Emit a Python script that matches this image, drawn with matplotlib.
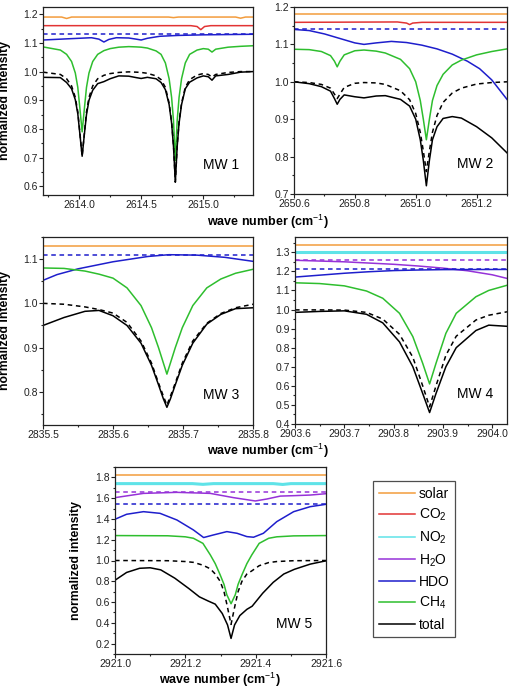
import matplotlib
matplotlib.use("Agg")
import matplotlib.pyplot as plt
from matplotlib.lines import Line2D
from matplotlib.ticker import MultipleLocator, FormatStrFormatter

plt.rcParams['font.family'] = ['Liberation Sans', 'DejaVu Sans']
plt.rcParams['mathtext.fontset'] = 'custom'
plt.rcParams['mathtext.rm'] = 'Liberation Sans'
plt.rcParams['mathtext.bf'] = 'Liberation Sans:bold'

# ---------------- MW 1 ----------------
mw1_solar_x = [2613.71, 2613.86, 2613.90, 2613.94, 2614.72, 2614.76, 2614.80, 2615.26, 2615.30, 2615.34, 2615.40]
mw1_solar = [1.190, 1.190, 1.185, 1.190, 1.190, 1.188, 1.190, 1.190, 1.186, 1.190, 1.190]
mw1_co2_x = [2613.71, 2614.90, 2614.95, 2614.98, 2615.01, 2615.06, 2615.40]
mw1_co2 = [1.160, 1.160, 1.157, 1.146, 1.157, 1.160, 1.160]
mw1_hdo_ref = [1.13, 1.13]
mw1_hdo_x = [2613.71, 2613.9, 2614.1, 2614.16, 2614.2, 2614.24, 2614.3, 2614.4, 2614.46, 2614.5,
             2614.55, 2614.65, 2614.8, 2615.0, 2615.2, 2615.4]
mw1_hdo = [1.110, 1.114, 1.118, 1.113, 1.103, 1.112, 1.118, 1.117, 1.113, 1.110,
           1.116, 1.123, 1.126, 1.128, 1.129, 1.130]
mw1_x = [2613.71, 2613.85, 2613.90, 2613.94, 2613.97, 2613.99, 2614.005, 2614.025, 2614.045, 2614.06,
         2614.08, 2614.11, 2614.15, 2614.20, 2614.25, 2614.32, 2614.40, 2614.46, 2614.50, 2614.55,
         2614.62, 2614.66, 2614.695, 2614.725, 2614.745, 2614.76, 2614.775, 2614.79, 2614.805, 2614.825,
         2614.855, 2614.89, 2614.95, 2615.00, 2615.04, 2615.07, 2615.10, 2615.20, 2615.30, 2615.40]
mw1_ch4 = [1.086, 1.075, 1.060, 1.035, 0.995, 0.945, 0.880, 0.790, 0.880, 0.945,
           0.995, 1.035, 1.060, 1.073, 1.080, 1.085, 1.087, 1.086, 1.085, 1.082,
           1.072, 1.060, 1.030, 0.975, 0.910, 0.830, 0.690, 0.830, 0.910, 0.975,
           1.030, 1.060, 1.075, 1.080, 1.078, 1.068, 1.078, 1.085, 1.088, 1.090]
mw1_ch4only = [0.998, 0.990, 0.975, 0.950, 0.910, 0.860, 0.795, 0.705, 0.795, 0.860,
               0.910, 0.950, 0.975, 0.987, 0.993, 0.997, 0.999, 0.998, 0.997, 0.994,
               0.985, 0.972, 0.945, 0.890, 0.825, 0.745, 0.615, 0.745, 0.825, 0.890,
               0.945, 0.972, 0.988, 0.993, 0.990, 0.981, 0.990, 0.997, 1.000, 1.000]
mw1_total = [0.980, 0.979, 0.962, 0.940, 0.902, 0.853, 0.790, 0.705, 0.790, 0.850,
             0.900, 0.935, 0.958, 0.965, 0.975, 0.985, 0.984, 0.979, 0.976, 0.980,
             0.975, 0.962, 0.937, 0.885, 0.820, 0.740, 0.615, 0.740, 0.820, 0.885,
             0.940, 0.963, 0.978, 0.985, 0.982, 0.970, 0.985, 0.990, 0.998, 1.000]

# ---------------- MW 2 ----------------
mw2_solar = [1.18, 1.18]
mw2_co2_x = [2650.60, 2650.94, 2650.97, 2650.98, 2650.99, 2651.02, 2651.30]
mw2_co2 = [1.159, 1.160, 1.157, 1.153, 1.157, 1.159, 1.159]
mw2_hdo_ref = [1.14, 1.14]
mw2_hdo_x = [2650.60, 2650.65, 2650.70, 2650.75, 2650.80, 2650.83, 2650.87, 2650.92, 2650.97, 2651.02,
             2651.07, 2651.12, 2651.17, 2651.21, 2651.25, 2651.30]
mw2_hdo = [1.140, 1.137, 1.128, 1.116, 1.104, 1.100, 1.104, 1.108, 1.105, 1.098,
           1.088, 1.074, 1.055, 1.035, 1.005, 0.953]
mw2_x = [2650.60, 2650.65, 2650.69, 2650.72, 2650.733, 2650.742, 2650.751, 2650.765, 2650.80, 2650.83,
         2650.87, 2650.90, 2650.95, 2650.98, 2651.00, 2651.015, 2651.025, 2651.035, 2651.045, 2651.055,
         2651.07, 2651.09, 2651.12, 2651.15, 2651.20, 2651.25, 2651.30]
mw2_ch4 = [1.087, 1.086, 1.081, 1.070, 1.055, 1.040, 1.055, 1.072, 1.083, 1.085,
           1.082, 1.077, 1.060, 1.035, 1.000, 0.950, 0.900, 0.845, 0.900, 0.950,
           0.990, 1.020, 1.045, 1.058, 1.072, 1.081, 1.088]
mw2_ch4only = [1.000, 0.998, 0.993, 0.983, 0.967, 0.955, 0.967, 0.985, 0.996, 0.998,
               0.997, 0.993, 0.976, 0.952, 0.915, 0.865, 0.815, 0.760, 0.815, 0.865,
               0.910, 0.945, 0.970, 0.983, 0.994, 0.998, 1.000]
mw2_total = [1.000, 0.995, 0.987, 0.975, 0.955, 0.940, 0.953, 0.965, 0.960, 0.957,
             0.962, 0.963, 0.953, 0.935, 0.900, 0.845, 0.790, 0.722, 0.790, 0.845,
             0.880, 0.902, 0.907, 0.903, 0.880, 0.850, 0.810]

# ---------------- MW 3 ----------------
mw3_solar = [1.13, 1.13]
mw3_hdo_ref = [1.11, 1.11]
mw3_hdo_x = [2835.50, 2835.52, 2835.55, 2835.60, 2835.65, 2835.68, 2835.72, 2835.76, 2835.80]
mw3_hdo = [1.052, 1.065, 1.078, 1.094, 1.106, 1.110, 1.109, 1.104, 1.095]
mw3_x = [2835.50, 2835.53, 2835.56, 2835.58, 2835.60, 2835.62, 2835.64, 2835.655, 2835.665, 2835.672,
         2835.677, 2835.682, 2835.689, 2835.699, 2835.714, 2835.734, 2835.754, 2835.775, 2835.80]
mw3_ch4 = [1.080, 1.079, 1.073, 1.066, 1.057, 1.035, 0.995, 0.945, 0.900, 0.865,
           0.840, 0.865, 0.900, 0.945, 0.995, 1.035, 1.055, 1.068, 1.077]
mw3_ch4only = [1.000, 0.998, 0.992, 0.986, 0.978, 0.957, 0.915, 0.865, 0.820, 0.790,
               0.770, 0.790, 0.820, 0.865, 0.915, 0.955, 0.977, 0.990, 0.998]
mw3_total = [0.950, 0.968, 0.982, 0.984, 0.972, 0.950, 0.910, 0.860, 0.816, 0.784,
             0.765, 0.784, 0.816, 0.860, 0.910, 0.953, 0.975, 0.988, 0.990]

# ---------------- MW 4 ----------------
mw4_solar = [1.34, 1.34]
mw4_no2 = [1.30, 1.30]
mw4_h2o_ref = [1.262, 1.262]
mw4_h2o_x = [2903.60, 2903.70, 2903.80, 2903.85, 2903.90, 2903.95, 2904.00, 2904.03]
mw4_h2o = [1.258, 1.250, 1.237, 1.228, 1.217, 1.203, 1.182, 1.163]
mw4_hdo_ref = [1.21, 1.21]
mw4_hdo_x = [2903.60, 2903.65, 2903.70, 2903.75, 2903.80, 2903.85, 2903.90, 2904.03]
mw4_hdo = [1.170, 1.180, 1.190, 1.198, 1.204, 1.207, 1.209, 1.210]
mw4_x = [2903.60, 2903.65, 2903.70, 2903.745, 2903.778, 2903.812, 2903.839, 2903.859, 2903.873, 2903.886,
         2903.906, 2903.927, 2903.967, 2903.993, 2904.03]
mw4_ch4 = [1.140, 1.136, 1.124, 1.097, 1.059, 0.980, 0.858, 0.718, 0.610, 0.718,
           0.875, 0.980, 1.067, 1.100, 1.127]
mw4_ch4only = [0.998, 0.998, 0.997, 0.985, 0.950, 0.870, 0.750, 0.600, 0.490, 0.600,
               0.760, 0.860, 0.945, 0.970, 0.988]
mw4_total = [0.985, 0.990, 0.993, 0.975, 0.930, 0.830, 0.700, 0.560, 0.460, 0.560,
             0.700, 0.800, 0.890, 0.918, 0.912]

# ---------------- MW 5 ----------------
mw5_solar = [1.82, 1.82]
mw5_no2_x = [2921.0, 2921.22, 2921.25, 2921.28, 2921.45, 2921.477, 2921.50, 2921.6]
mw5_no2 = [1.740, 1.740, 1.733, 1.740, 1.740, 1.732, 1.740, 1.740]
mw5_h2o_ref = [1.66, 1.66]
mw5_h2o_x = [2921.0, 2921.081, 2921.176, 2921.271, 2921.337, 2921.399, 2921.432, 2921.47, 2921.508, 2921.555, 2921.6]
mw5_h2o = [1.605, 1.646, 1.656, 1.646, 1.605, 1.573, 1.592, 1.620, 1.624, 1.630, 1.643]
mw5_hdo_ref = [1.54, 1.54]
mw5_hdo_x = [2921.0, 2921.033, 2921.081, 2921.128, 2921.176, 2921.223, 2921.252, 2921.28, 2921.318, 2921.347,
             2921.375, 2921.394, 2921.422, 2921.46, 2921.508, 2921.555, 2921.6]
mw5_hdo = [1.397, 1.445, 1.470, 1.454, 1.390, 1.294, 1.221, 1.246, 1.278, 1.262,
           1.230, 1.224, 1.262, 1.374, 1.470, 1.518, 1.541]
mw5_x = [2921.0, 2921.15, 2921.2, 2921.223, 2921.25, 2921.271, 2921.285, 2921.299, 2921.31, 2921.318,
         2921.33, 2921.342, 2921.35, 2921.361, 2921.375, 2921.389, 2921.41, 2921.437, 2921.46, 2921.508, 2921.6]
mw5_ch4 = [1.240, 1.238, 1.228, 1.214, 1.165, 1.054, 0.970, 0.862, 0.770, 0.670,
           0.584, 0.670, 0.770, 0.862, 0.970, 1.054, 1.165, 1.214, 1.228, 1.237, 1.240]
mw5_ch4only = [1.000, 0.998, 0.990, 0.982, 0.955, 0.920, 0.870, 0.800, 0.700, 0.580,
               0.385, 0.580, 0.700, 0.800, 0.870, 0.900, 0.950, 0.980, 0.990, 0.998, 1.000]
mw5_total_x = [2921.0, 2921.033, 2921.07, 2921.1, 2921.13, 2921.17, 2921.21, 2921.24, 2921.265, 2921.285,
               2921.305, 2921.32, 2921.33, 2921.34, 2921.355, 2921.375, 2921.39, 2921.42, 2921.45, 2921.48,
               2921.51, 2921.555, 2921.6]
mw5_total = [0.810, 0.885, 0.925, 0.930, 0.910, 0.830, 0.730, 0.650, 0.610, 0.580,
             0.490, 0.380, 0.250, 0.380, 0.470, 0.530, 0.560, 0.685, 0.790, 0.870,
             0.915, 0.965, 0.997]

legend_labels = ['solar', 'CO$_2$', 'NO$_2$', 'H$_2$O', 'HDO', 'CH$_4$', 'total']

C_SOLAR = '#F39C3C'
C_CO2 = '#E23434'
C_NO2 = '#5FE3E8'
C_H2O = '#9632D8'
C_HDO = '#1E1ECC'
C_CH4 = '#2EBE2E'
C_TOT = '#000000'
DASH = (0, (3.0, 2.4))

W, H = 509, 688
fig = plt.figure(figsize=(W / 100, H / 100), dpi=100)


def make_ax(l, t, r, b):
    return fig.add_axes([l / W, 1 - b / H, (r - l) / W, (b - t) / H])


def style(ax, xlim, ylim, xmaj, xmin, ymaj, ymin, name):
    ax.set_xlim(*xlim)
    ax.set_ylim(*ylim)
    ax.xaxis.set_major_locator(MultipleLocator(xmaj))
    ax.xaxis.set_minor_locator(MultipleLocator(xmin))
    ax.yaxis.set_major_locator(MultipleLocator(ymaj))
    ax.yaxis.set_minor_locator(MultipleLocator(ymin))
    ax.xaxis.set_major_formatter(FormatStrFormatter('%.1f'))
    ax.yaxis.set_major_formatter(FormatStrFormatter('%.1f'))
    ax.tick_params(which='both', direction='out', top=False, right=False,
                   labelsize=7.5, width=0.8, colors='#222222', pad=1)
    ax.tick_params(which='major', length=2.6)
    ax.tick_params(which='minor', length=1.6)
    for s in ax.spines.values():
        s.set_linewidth(0.9)
        s.set_color('#222222')
    ax.text(0.85, 0.16, name, transform=ax.transAxes, fontsize=10,
            ha='center', va='center')


lw = 1.1
ylab_kw = dict(fontsize=8.8, fontweight='bold')

# MW 1
ax1 = make_ax(43, 7, 253, 195)
xl = (2613.71, 2615.40)
ax1.plot(mw1_solar_x, mw1_solar, color=C_SOLAR, lw=lw)
ax1.plot(mw1_co2_x, mw1_co2, color=C_CO2, lw=lw)
ax1.plot(xl, mw1_hdo_ref, color=C_HDO, lw=lw, ls=DASH)
ax1.plot(mw1_hdo_x, mw1_hdo, color=C_HDO, lw=lw)
ax1.plot(mw1_x, mw1_ch4, color=C_CH4, lw=lw)
ax1.plot(mw1_x, mw1_ch4only, color=C_TOT, lw=lw, ls=DASH)
ax1.plot(mw1_x, mw1_total, color=C_TOT, lw=lw)
style(ax1, xl, (0.57, 1.225), 0.5, 0.25, 0.1, 0.05, 'MW 1')
ax1.set_ylabel('normalized intensity', **ylab_kw)
ax1.yaxis.set_label_coords(-0.152, 0.5)

# MW 2
ax2 = make_ax(294, 7, 507, 194)
xl = (2650.6, 2651.3)
ax2.plot(xl, mw2_solar, color=C_SOLAR, lw=lw)
ax2.plot(mw2_co2_x, mw2_co2, color=C_CO2, lw=lw)
ax2.plot(xl, mw2_hdo_ref, color=C_HDO, lw=lw, ls=DASH)
ax2.plot(mw2_hdo_x, mw2_hdo, color=C_HDO, lw=lw)
ax2.plot(mw2_x, mw2_ch4, color=C_CH4, lw=lw)
ax2.plot(mw2_x, mw2_ch4only, color=C_TOT, lw=lw, ls=DASH)
ax2.plot(mw2_x, mw2_total, color=C_TOT, lw=lw)
style(ax2, xl, (0.7, 1.2), 0.2, 0.1, 0.1, 0.05, 'MW 2')

# MW 3
ax3 = make_ax(43, 237, 253, 425)
xl = (2835.5, 2835.8)
ax3.plot(xl, mw3_solar, color=C_SOLAR, lw=lw)
ax3.plot(xl, mw3_hdo_ref, color=C_HDO, lw=lw, ls=DASH)
ax3.plot(mw3_hdo_x, mw3_hdo, color=C_HDO, lw=lw)
ax3.plot(mw3_x, mw3_ch4, color=C_CH4, lw=lw)
ax3.plot(mw3_x, mw3_ch4only, color=C_TOT, lw=lw, ls=DASH)
ax3.plot(mw3_x, mw3_total, color=C_TOT, lw=lw)
style(ax3, xl, (0.725, 1.15), 0.1, 0.05, 0.1, 0.05, 'MW 3')
ax3.set_ylabel('normalized intensity', **ylab_kw)
ax3.yaxis.set_label_coords(-0.152, 0.5)

# MW 4
ax4 = make_ax(295, 237, 507, 424)
xl = (2903.6, 2904.03)
ax4.plot(xl, mw4_solar, color=C_SOLAR, lw=lw)
ax4.plot(xl, mw4_no2, color=C_NO2, lw=2.2)
ax4.plot(xl, mw4_h2o_ref, color=C_H2O, lw=lw, ls=DASH)
ax4.plot(mw4_h2o_x, mw4_h2o, color=C_H2O, lw=lw)
ax4.plot(xl, mw4_hdo_ref, color=C_HDO, lw=lw, ls=DASH)
ax4.plot(mw4_hdo_x, mw4_hdo, color=C_HDO, lw=lw)
ax4.plot(mw4_x, mw4_ch4, color=C_CH4, lw=lw)
ax4.plot(mw4_x, mw4_ch4only, color=C_TOT, lw=lw, ls=DASH)
ax4.plot(mw4_x, mw4_total, color=C_TOT, lw=lw)
style(ax4, xl, (0.4, 1.38), 0.1, 0.05, 0.1, 0.05, 'MW 4')

# MW 5
ax5 = make_ax(115, 467, 326, 654)
xl = (2921.0, 2921.6)
ax5.plot(xl, mw5_solar, color=C_SOLAR, lw=lw)
ax5.plot(mw5_no2_x, mw5_no2, color=C_NO2, lw=2.2)
ax5.plot(xl, mw5_h2o_ref, color=C_H2O, lw=lw, ls=DASH)
ax5.plot(mw5_h2o_x, mw5_h2o, color=C_H2O, lw=lw)
ax5.plot(xl, mw5_hdo_ref, color=C_HDO, lw=lw, ls=DASH)
ax5.plot(mw5_hdo_x, mw5_hdo, color=C_HDO, lw=lw)
ax5.plot(mw5_x, mw5_ch4, color=C_CH4, lw=lw)
ax5.plot(mw5_x, mw5_ch4only, color=C_TOT, lw=lw, ls=DASH)
ax5.plot(mw5_total_x, mw5_total, color=C_TOT, lw=lw)
style(ax5, xl, (0.1, 1.9), 0.2, 0.1, 0.2, 0.1, 'MW 5')
ax5.set_ylabel('normalized intensity', **ylab_kw)
ax5.yaxis.set_label_coords(-0.157, 0.5)

# x labels
xlab = 'wave number (cm$^{-1}$)'
fig.text(268 / W, 1 - 222 / H, xlab, fontsize=9, fontweight='bold', ha='center', va='center')
fig.text(268 / W, 1 - 451 / H, xlab, fontsize=9, fontweight='bold', ha='center', va='center')
fig.text(220 / W, 1 - 680 / H, xlab, fontsize=9, fontweight='bold', ha='center', va='center')

# legend
handles = [Line2D([], [], color=c, lw=1.1) for c in
           [C_SOLAR, C_CO2, C_NO2, C_H2O, C_HDO, C_CH4, C_TOT]]
leg = fig.legend(handles, legend_labels, loc='upper left',
                 bbox_to_anchor=(373 / W, 1 - 481 / H), fontsize=10,
                 frameon=True, fancybox=False, edgecolor='#222222',
                 handlelength=2.6, handletextpad=0.3, labelspacing=0.45,
                 borderpad=0.4, borderaxespad=0)
leg.get_frame().set_linewidth(0.9)

fig.savefig('out.png', dpi=100)
